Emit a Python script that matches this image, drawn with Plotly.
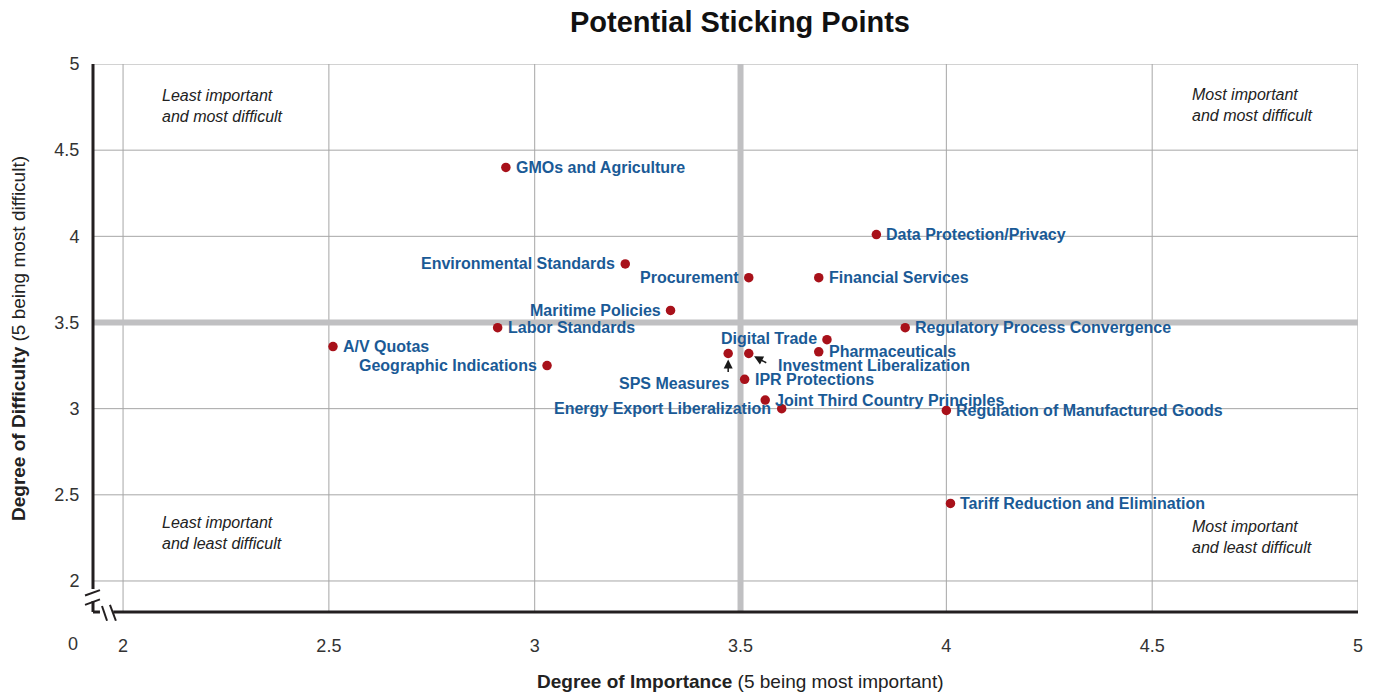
import plotly.graph_objects as go

# Survey results: degree of importance vs degree of difficulty
issues = ['GMOs and Agriculture', 'Data Protection/Privacy', 'Environmental Standards',
          'Procurement', 'Financial Services', 'Maritime Policies', 'Labor Standards',
          'Regulatory Process Convergence', 'A/V Quotas', 'Digital Trade', 'Pharmaceuticals',
          'Geographic Indications', 'SPS Measures', 'Investment Liberalization',
          'IPR Protections', 'Joint Third Country Principles', 'Energy Export Liberalization',
          'Regulation of Manufactured Goods', 'Tariff Reduction and Elimination']
importance = [2.93, 3.83, 3.22, 3.52, 3.69, 3.33, 2.91, 3.90, 2.51, 3.71, 3.69,
              3.03, 3.47, 3.52, 3.51, 3.56, 3.60, 4.00, 4.01]
difficulty = [4.40, 4.01, 3.84, 3.76, 3.76, 3.57, 3.47, 3.47, 3.36, 3.40, 3.33,
              3.25, 3.32, 3.32, 3.17, 3.05, 3.00, 2.99, 2.45]
x_ticks = [2, 2.5, 3, 3.5, 4, 4.5, 5]
y_ticks = [2, 2.5, 3, 3.5, 4, 4.5, 5]

# label placement (anchor, xshift, yshift); everything else sits to the right
label_pos = {
    'Environmental Standards': ('right', -8, 0),
    'Procurement': ('right', -8, 0),
    'Maritime Policies': ('right', -8, 0),
    'Geographic Indications': ('right', -8, 0),
    'Energy Export Liberalization': ('right', -9, 0),
    'Digital Trade': ('right', -8, 1),
    'SPS Measures': ('right', 3, -30),
    'Investment Liberalization': ('left', 27, -12),
}

BLUE = '#1a5a96'
RED = '#a8111a'
GRID = '#a6a6a6'
AXIS = '#231f20'
FONT = 'Liberation Sans, Arial'

fig = go.Figure()
fig.add_trace(go.Scatter(
    x=importance, y=difficulty, mode='markers',
    marker=dict(color=RED, size=9.5),
    hoverinfo='text', text=issues, showlegend=False
))

annotations = []
for name, xv, yv in zip(issues, importance, difficulty):
    a, xs, ys = label_pos.get(name, ('left', 8, 0))
    annotations.append(dict(x=xv, y=yv, text='<b>' + name + '</b>', showarrow=False,
                            font=dict(size=16, color=BLUE, family=FONT),
                            xanchor=a, xshift=xs, yshift=ys, yanchor='middle'))

# pointer arrows
annotations.append(dict(x=importance[12], y=difficulty[12], ax=0, ay=20, text='',
                        showarrow=True, arrowhead=2, arrowsize=1.2, arrowwidth=1.5,
                        arrowcolor='#1a1a1a', standoff=6))
annotations.append(dict(x=importance[13], y=difficulty[13], ax=19, ay=10, text='',
                        showarrow=True, arrowhead=2, arrowsize=1.2, arrowwidth=1.5,
                        arrowcolor='#1a1a1a', standoff=6))

quad_font = dict(size=16, color='#222', family=FONT)
for txt, xp, yp in [('<i>Least important<br>and most difficult</i>', 0.053, 0.923),
                    ('<i>Most important<br>and most difficult</i>', 0.867, 0.925),
                    ('<i>Least important<br>and least difficult</i>', 0.053, 0.144),
                    ('<i>Most important<br>and least difficult</i>', 0.867, 0.137)]:
    annotations.append(dict(x=xp, y=yp, xref='paper', yref='paper', text=txt,
                            showarrow=False, xanchor='left', yanchor='middle',
                            align='left', font=quad_font))

# "0" origin label and axis titles
annotations.append(dict(x=-0.0158, y=-0.058, xref='paper', yref='paper', text='0',
                        showarrow=False, xanchor='center', yanchor='middle',
                        font=dict(size=18, color='#333', family=FONT)))
annotations.append(dict(x=(740 - 93) / 1265, y=-0.1277, xref='paper', yref='paper',
                        text='<b>Degree of Importance</b> (5 being most important)',
                        showarrow=False, xanchor='center', yanchor='middle',
                        font=dict(size=19, color='#222', family=FONT)))
annotations.append(dict(x=-0.0593, y=0.5, xref='paper', yref='paper', textangle=-90,
                        text='<b>Degree of Difficulty</b> (5 being most difficult)',
                        showarrow=False, xanchor='center', yanchor='middle',
                        font=dict(size=19, color='#222', family=FONT)))

# grid drawn as shapes so the quadrant dividers can sit on top of it
shapes = []
for v in x_ticks:
    shapes.append(dict(type='line', x0=v, x1=v, y0=0, y1=1, xref='x', yref='paper',
                       line=dict(color=GRID, width=1), layer='below'))
for v in y_ticks:
    shapes.append(dict(type='line', x0=0, x1=1, y0=v, y1=v, xref='paper', yref='y',
                       line=dict(color=GRID, width=1), layer='below'))

shapes += [
    # quadrant divider lines
    dict(type='line', x0=3.5, x1=3.5, y0=0, y1=1, xref='x', yref='paper',
         line=dict(color='#c0c0c2', width=6), layer='below'),
    dict(type='line', x0=0, x1=1, y0=3.5, y1=3.5, xref='paper', yref='y',
         line=dict(color='#c0c0c2', width=6), layer='below'),
    # y axis with break
    dict(type='line', x0=0, x1=0, y0=0.042, y1=1, xref='paper', yref='paper',
         line=dict(color=AXIS, width=3)),
    dict(type='line', x0=0, x1=0, y0=0, y1=0.02, xref='paper', yref='paper',
         line=dict(color=AXIS, width=3)),
    dict(type='line', x0=-0.0063, x1=0.0055, y0=0.030, y1=0.040, xref='paper', yref='paper',
         line=dict(color=AXIS, width=2)),
    dict(type='line', x0=-0.0063, x1=0.0055, y0=0.013, y1=0.023, xref='paper', yref='paper',
         line=dict(color=AXIS, width=2)),
    # x axis with break
    dict(type='line', x0=0, x1=0.0055, y0=0, y1=0, xref='paper', yref='paper',
         line=dict(color=AXIS, width=3)),
    dict(type='line', x0=0.016, x1=1, y0=0, y1=0, xref='paper', yref='paper',
         line=dict(color=AXIS, width=3)),
    dict(type='line', x0=0.0071, x1=0.0111, y0=0.011, y1=-0.016, xref='paper', yref='paper',
         line=dict(color=AXIS, width=2)),
    dict(type='line', x0=0.0134, x1=0.0181, y0=0.013, y1=-0.016, xref='paper', yref='paper',
         line=dict(color=AXIS, width=2)),
]

fig.update_layout(
    width=1374, height=694,
    margin=dict(l=93, r=16, t=64, b=82),
    paper_bgcolor='white', plot_bgcolor='white',
    font=dict(family=FONT, size=18, color='#333'),
    title=dict(text='<b>Potential Sticking Points</b>', x=740 / 1374, xanchor='center',
               y=0.968, yanchor='middle', font=dict(size=29, color='#111')),
    xaxis=dict(range=[1.927, 5], tickvals=x_ticks, ticktext=[str(v) for v in x_ticks],
               showgrid=False, zeroline=False, showline=False,
               ticks='outside', ticklen=17, tickcolor='rgba(0,0,0,0)'),
    yaxis=dict(range=[1.82, 5], tickvals=y_ticks, ticktext=[str(v) for v in y_ticks],
               showgrid=False, zeroline=False, showline=False,
               ticks='outside', ticklen=9, tickcolor='rgba(0,0,0,0)'),
    annotations=annotations,
    shapes=shapes,
)

fig.write_html('out.html', config={'displayModeBar': False},
               post_script="document.body.style.margin='0px';")
